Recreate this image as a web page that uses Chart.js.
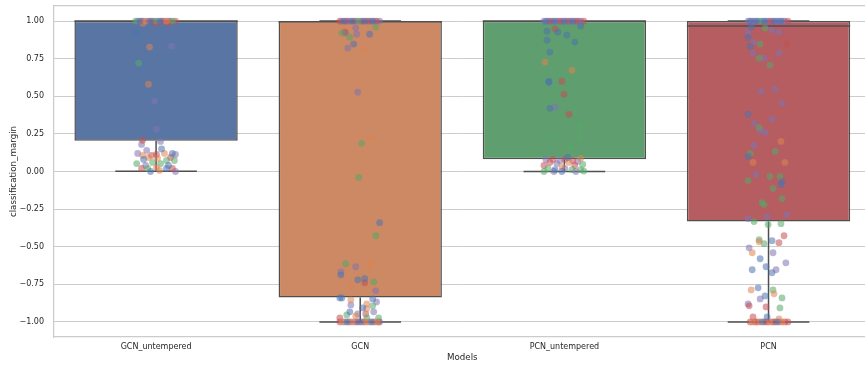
<!DOCTYPE html>
<html>
<head>
<meta charset="utf-8">
<script src="https://cdn.jsdelivr.net/npm/chart.js@4.4.1/dist/chart.umd.min.js"></script>
<style>
  html, body { margin: 0; padding: 0; background: #ffffff; overflow: hidden; }
  #wrap { width: 874px; height: 369px; }
</style>
</head>
<body>
<div id="wrap"><canvas id="chart" width="874" height="369"></canvas></div>
<script>
// Models on the x axis
const models = ['GCN_untempered', 'GCN', 'PCN_untempered', 'PCN'];

// Box statistics per model
const q1 = [0.205, -0.838, 0.082, -0.333];
const q3 = [1.0, 1.0, 1.0, 1.0];
const medians = [1.0, 0.995, 1.0, 0.967];
const whiskerLow = [0.002, -1.0, 0.0, -1.0];
const whiskerHigh = [1.0, 1.0, 1.0, 1.0];

// y tick values
const yTicks = [-1.0, -0.75, -0.5, -0.25, 0.0, 0.25, 0.5, 0.75, 1.0];

// Strip points: [jitter offset (category units), margin, hue index]
const gcnUntemperedPts = [
  [-0.100,1,2],[-0.090,1,4],[-0.080,1,0],[-0.070,1,3],[-0.060,1,4],[-0.050,1,1],[-0.040,1,4],
  [-0.030,1,0],[-0.020,1,3],[-0.010,1,4],[0.000,1,2],[0.010,1,4],[0.020,1,0],[0.030,1,3],
  [0.040,1,4],[0.050,1,1],[0.060,1,3],[0.070,1,4],[0.080,1,2],[0.095,1,3],
  [-0.065,0.985,1],[0.000,0.985,3],[0.060,0.985,3],
  [-0.100,0.92,0],[-0.032,0.827,1],[0.076,0.833,4],[-0.085,0.72,2],[-0.037,0.58,1],
  [-0.007,0.467,4],[0.002,0.28,4],[-0.066,0.207,3],[0.022,0.2,4],
  [-0.071,0.18,4],[0.027,0.15,0],[-0.046,0.14,4],[-0.090,0.12,4],[-0.066,0.107,1],
  [-0.022,0.107,3],[0.002,0.113,3],[0.041,0.12,1],[0.080,0.12,0],[0.095,0.113,4],
  [0.071,0.093,3],[0.007,0.087,1],[-0.061,0.08,0],[-0.037,0.093,1],[0.051,0.073,2],
  [0.090,0.073,2],[-0.017,0.06,2],[-0.095,0.053,2],[0.022,0.053,2],[-0.051,0.04,4],
  [0.061,0.04,0],[0.002,0.027,1],[-0.071,0.02,3],[-0.041,0.02,2],[0.051,0.02,0],
  [0.080,0.02,3],[-0.027,0.0,0],[0.095,0.0,4],[0.017,0.007,1]
];
const gcnPts = [
  [-0.100,1,3],[-0.090,1,4],[-0.080,1,0],[-0.070,1,3],[-0.060,1,4],[-0.050,1,4],[-0.040,1,0],
  [-0.030,1,3],[-0.020,1,4],[-0.010,1,2],[0.000,1,4],[0.010,1,3],[0.020,1,0],[0.030,1,4],
  [0.040,1,3],[0.050,1,4],[0.060,1,0],[0.070,1,4],[0.080,1,3],[0.095,1,4],
  [-0.090,0.92,2],[-0.076,0.927,3],[-0.071,0.92,4],[-0.051,0.893,2],[-0.017,0.913,4],
  [0.046,0.913,0],[-0.022,0.953,4],[0.076,0.96,2],[-0.032,0.847,0],[-0.061,0.82,4],
  [0.017,0.807,1],[-0.012,0.527,4],[0.051,0.22,1],[0.007,0.187,2],[-0.007,-0.04,2],
  [0.095,-0.34,0],[0.076,-0.427,2],[-0.071,-0.613,2],[0.051,-0.607,1],[0.051,-0.633,1],
  [-0.022,-0.633,4],[-0.095,-0.667,4],[-0.095,-0.687,0],[-0.012,-0.72,0],[0.022,-0.713,0],
  [0.022,-0.74,3],[0.066,-0.733,2],[-0.046,-0.76,1],[0.076,-0.793,4],[-0.100,-0.84,0],
  [-0.090,-0.84,0],[0.061,-0.847,0],[0.080,-0.867,4],[-0.046,-0.853,1],[-0.046,-0.887,4],
  [0.032,-0.88,1],[0.061,-0.893,2],[0.012,-0.907,0],[0.032,-0.913,1],[0.066,-0.933,4],
  [-0.051,-0.933,0],[-0.012,-0.947,4],[0.027,-0.947,3],[-0.066,-0.953,2],[-0.022,-0.96,1],
  [-0.100,-0.973,3],[0.032,-0.973,2],[0.090,-0.973,2],
  [-0.100,-1,3],[-0.088,-1,1],[-0.076,-1,4],[-0.064,-1,0],[-0.052,-1,3],[-0.040,-1,1],
  [-0.028,-1,4],[-0.016,-1,3],[-0.004,-1,0],[0.008,-1,4],[0.020,-1,3],[0.032,-1,1],
  [0.044,-1,4],[0.056,-1,0],[0.068,-1,3],[0.080,-1,1],[0.090,-1,3],[0.095,-1,4]
];
const pcnUntemperedPts = [
  [-0.100,1,4],[-0.090,1,0],[-0.080,1,4],[-0.070,1,3],[-0.060,1,4],[-0.050,1,0],[-0.040,1,4],
  [-0.030,1,4],[-0.020,1,3],[-0.010,1,4],[0.000,1,0],[0.010,1,4],[0.020,1,3],[0.030,1,4],
  [0.040,1,0],[0.050,1,4],[0.060,1,3],[0.070,1,4],[0.080,1,4],[0.095,1,3],
  [0.080,0.967,0],[-0.085,0.933,0],[-0.046,0.947,3],[-0.032,0.927,0],[0.012,0.907,0],
  [-0.085,0.873,0],[0.051,0.86,0],[0.041,0.853,2],[-0.071,0.793,0],[-0.095,0.727,1],
  [0.037,0.673,1],[-0.076,0.6,0],[-0.076,0.593,0],[-0.012,0.6,3],[-0.002,0.513,3],
  [-0.071,0.42,0],[-0.046,0.427,4],[0.022,0.38,3],[0.076,0.3,2],[-0.071,0.24,2],
  [0.076,0.227,2],[0.032,0.16,2],
  [0.017,0.093,0],[0.080,0.087,1],[-0.090,0.08,4],[-0.056,0.08,3],[-0.022,0.073,4],
  [0.002,0.08,3],[0.041,0.073,3],[0.066,0.067,4],[-0.071,0.06,3],[-0.037,0.053,4],
  [0.022,0.06,1],[0.090,0.047,2],[-0.100,0.04,3],[-0.012,0.033,1],[0.051,0.04,3],
  [-0.080,0.02,2],[-0.046,0.013,0],[0.002,0.02,4],[0.037,0.013,2],[0.080,0.013,2],
  [-0.100,0.0,2],[-0.051,0.0,4],[-0.012,0.0,0],[0.056,0.0,4],[0.095,0.003,2]
];
const pcnPts = [
  [-0.100,1,4],[-0.090,1,0],[-0.080,1,4],[-0.070,1,4],[-0.060,1,0],[-0.050,1,4],[-0.040,1,2],
  [-0.030,1,4],[-0.020,1,0],[-0.010,1,4],[0.000,1,4],[0.010,1,3],[0.020,1,4],[0.030,1,0],
  [0.040,1,4],[0.050,1,4],[0.060,1,0],[0.070,1,4],[0.080,1,4],[0.095,1,3],
  [-0.085,0.96,0],[-0.100,0.927,4],[-0.100,0.893,0],[-0.017,0.953,2],[0.017,0.94,4],
  [0.051,0.927,4],[-0.071,0.86,4],[-0.090,0.833,0],[-0.041,0.847,2],[0.090,0.847,3],
  [-0.076,0.787,4],[0.051,0.787,4],[-0.046,0.753,2],[-0.022,0.753,4],[0.007,0.707,2],
  [-0.037,0.533,4],[0.032,0.547,4],[0.066,0.453,4],[-0.100,0.38,0],[0.017,0.347,4],
  [-0.071,0.32,4],[-0.046,0.293,2],[-0.041,0.273,4],[-0.017,0.26,4],[0.061,0.2,1],
  [-0.071,0.173,4],[0.032,0.133,2],[-0.090,0.12,2],[-0.100,0.1,0],[-0.076,0.06,1],
  [0.080,0.06,1],[-0.061,-0.02,4],[0.007,-0.033,2],[0.056,-0.033,2],[-0.100,-0.06,2],
  [0.066,-0.067,0],[0.061,-0.087,0],[0.022,-0.113,2],[0.066,-0.18,2],[-0.032,-0.207,2],
  [-0.022,-0.22,2],[0.090,-0.287,4],[-0.007,-0.3,4],[-0.100,-0.313,4],[-0.071,-0.333,2],
  [-0.002,-0.353,2],[0.061,-0.347,2],[0.076,-0.427,3],[-0.046,-0.453,2],[-0.046,-0.467,1],
  [-0.022,-0.48,2],[0.017,-0.46,0],[0.051,-0.473,3],[-0.095,-0.507,4],[-0.080,-0.54,1],
  [0.022,-0.54,4],[0.085,-0.607,4],[-0.041,-0.58,0],[-0.012,-0.633,0],[0.037,-0.653,4],
  [-0.080,-0.653,0],[0.017,-0.673,0],[-0.051,-0.773,0],[-0.085,-0.787,1],[0.022,-0.787,2],
  [0.027,-0.813,1],[0.066,-0.84,2],[-0.017,-0.827,0],[-0.041,-0.847,4],[-0.100,-0.88,4],
  [-0.095,-0.893,3],[-0.012,-0.9,3],[0.056,-0.907,2],[-0.076,-0.967,3],[-0.007,-0.967,0],
  [0.051,-0.98,1],
  [-0.090,-1,3],[-0.078,-1,1],[-0.066,-1,3],[-0.054,-1,3],[-0.042,-1,1],[-0.030,-1,0],
  [-0.018,-1,3],[-0.006,-1,3],[0.006,-1,1],[0.018,-1,3],[0.030,-1,3],[0.042,-1,0],
  [0.054,-1,3],[0.066,-1,1],[0.080,-1,3],[0.095,-1,3]
];
const modelPoints = [gcnUntemperedPts, gcnPts, pcnUntemperedPts, pcnPts];

// Colours
const boxColors = ['#5875a4', '#cc8963', '#5f9e6e', '#b55d60'];
const hueColors = ['rgba(76,114,176,0.55)', 'rgba(221,132,82,0.55)', 'rgba(85,168,104,0.55)',
                   'rgba(196,78,82,0.55)', 'rgba(129,114,179,0.55)'];
const lineGray = '#4f4f4f';
const gridGray = '#cccccc';
const textGray = '#262626';
const fontFamily = 'DejaVu Sans';

// Whiskers, caps and medians as separate segments (null breaks the line)
const segments = [];
models.forEach((m, i) => {
  const seg = (x0, y0, x1, y1) => { segments.push({x: x0, y: y0}, {x: x1, y: y1}, {x: x1, y: null}); };
  seg(i - 0.4, medians[i], i + 0.4, medians[i]);
  seg(i, q1[i], i, whiskerLow[i]);
  seg(i - 0.2, whiskerLow[i], i + 0.2, whiskerLow[i]);
  seg(i, q3[i], i, whiskerHigh[i]);
  seg(i - 0.2, whiskerHigh[i], i + 0.2, whiskerHigh[i]);
});

// One scatter dataset per hue level
const pointSets = hueColors.map((c, h) => ({
  type: 'scatter',
  xAxisID: 'xs',
  yAxisID: 'y',
  order: 0,
  data: modelPoints.flatMap((pts, i) => pts.filter(p => p[2] === h).map(p => ({x: i + p[0], y: p[1]}))),
  backgroundColor: c,
  borderWidth: 0,
  pointRadius: 3.4,
  pointHoverRadius: 3.4
}));

// Remove the automatic label padding so the plot area sits where the layout puts it
const noPad = s => { s.paddingTop = 0; s.paddingBottom = 0; s.paddingLeft = 0; s.paddingRight = 0; };

new Chart(document.getElementById('chart'), {
  type: 'bar',
  data: {
    labels: models,
    datasets: [
      {
        type: 'bar',
        xAxisID: 'x',
        yAxisID: 'y',
        order: 2,
        grouped: false,
        data: models.map((m, i) => [q1[i], q3[i]]),
        backgroundColor: boxColors,
        borderColor: lineGray,
        borderWidth: 1.5,
        borderSkipped: false,
        barPercentage: 0.8,
        categoryPercentage: 1.0
      },
      {
        type: 'scatter',
        xAxisID: 'xs',
        yAxisID: 'y',
        order: 1,
        data: segments,
        showLine: true,
        spanGaps: false,
        borderColor: lineGray,
        borderWidth: 1.5,
        pointRadius: 0,
        pointHoverRadius: 0
      },
      ...pointSets
    ]
  },
  options: {
    responsive: false,
    animation: false,
    devicePixelRatio: 1,
    layout: { padding: { top: 6, right: 0, bottom: 0, left: 0 } },
    plugins: { legend: { display: false }, tooltip: { enabled: false } },
    scales: {
      x: {
        type: 'category',
        position: 'bottom',
        offset: true,
        grid: { display: false, drawTicks: false },
        border: { display: true, color: gridGray, width: 1.25 },
        ticks: { color: textGray, font: { family: fontFamily, size: 8 }, padding: 5, maxRotation: 0 },
        title: { display: true, text: 'Models', color: textGray,
                 font: { family: fontFamily, size: 8.7 }, padding: { top: 0, bottom: 6 } },
        afterFit(s) { s.height = 32; noPad(s); }
      },
      xs: {
        type: 'linear',
        position: 'top',
        offset: false,
        min: -0.5,
        max: 3.5,
        grid: { display: false, drawTicks: false, offset: false },
        ticks: { display: false },
        border: { display: true, color: gridGray, width: 1.25 },
        afterFit(s) { s.height = 0; noPad(s); }
      },
      y: {
        type: 'linear',
        position: 'left',
        min: -1.1,
        max: 1.1,
        afterBuildTicks(s) { s.ticks = yTicks.map(v => ({ value: v })); },
        grid: { color: gridGray, lineWidth: 1, drawTicks: false },
        border: { display: true, color: gridGray, width: 1.25 },
        ticks: {
          color: textGray,
          font: { family: fontFamily, size: 8 },
          padding: 10,
          callback: v => Number(v).toFixed(2).replace('-', '\u2212')
        },
        title: { display: true, text: 'classification_margin', color: textGray,
                 font: { family: fontFamily, size: 8.7 }, padding: { top: 9, bottom: 0 } },
        afterFit(s) { s.width = 54; noPad(s); }
      }
    }
  }
});
</script>
</body>
</html>
